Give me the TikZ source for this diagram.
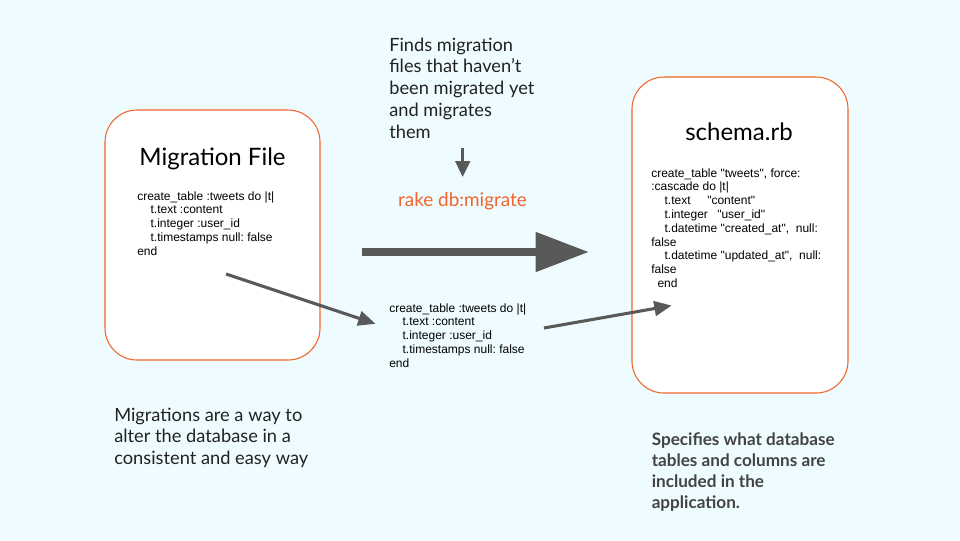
\documentclass[tikz,border=0pt]{standalone}
\usepackage{fontspec}
\setmainfont{Lato}
\newfontfamily\codefont{Liberation Sans}
\usetikzlibrary{arrows.meta}
\frenchspacing
\definecolor{bgc}{HTML}{EEFCFF}
\definecolor{orng}{HTML}{F0652B}
\definecolor{arrc}{HTML}{595959}
\definecolor{txtc}{HTML}{222222}
\definecolor{grayt}{HTML}{434343}
\newcommand\mylines[1]{\begin{tabular}[t]{@{}l@{}}#1\end{tabular}}
\newcommand\ind{\hspace*{10pt}}
\tikzset{
  filebox/.style={draw=orng, line width=0.8pt, fill=white, rounded corners=24pt},
  codetext/.style={anchor=base west, inner sep=0pt, font=\codefont\frenchspacing\fontsize{9}{10.35}\selectfont, text=black},
  bodytext/.style={anchor=base west, inner sep=0pt, font=\fontsize{13.7}{16.4}\selectfont, text=txtc},
  titletext/.style={anchor=base, inner sep=0pt, font=\fontsize{18}{21}\selectfont, text=black},
  thinarrow/.style={draw=arrc, line width=2.3pt, -{Triangle[length=13pt,width=11pt]}, shorten >=-2pt},
}
\begin{document}
\begin{tikzpicture}[x=0.75pt,y=-0.75pt]
\useasboundingbox (0,0) rectangle (960,540);
\fill[bgc] (0,0) rectangle (960,540);

% boxes
\draw[filebox] (105,110) rectangle (320,360);
\draw[filebox] (632,77) rectangle (848,393);

\node[titletext] (t1) at (212.5,165) {Migration File};
\node[titletext] (t2) at (739,140) {schema.rb};

\node[codetext] (c1) at (137,200) {\mylines{create\_table :tweets do |t|\\
\ind t.text :content\\
\ind t.integer :user\_id\\
\ind t.timestamps null: false\\
end}};

\node[codetext] (c2) at (389,312) {\mylines{create\_table :tweets do |t|\\
\ind t.text :content\\
\ind t.integer :user\_id\\
\ind t.timestamps null: false\\
end}};

\node[codetext] (c3) at (651,177) {\mylines{create\_table "tweets", force:\\
:cascade do |t|\\
\ind\makebox[32pt][l]{t.text}"content"\\
\ind\makebox[39.5pt][l]{t.integer}"user\_id"\\
\ind t.datetime "created\_at",\ \ null:\\
false\\
\ind t.datetime "updated\_at",\ \ null:\\
false\\
\hspace*{4.7pt}end}};

\node[bodytext] (top) at (389,51) {\mylines{Finds migration\\ files that haven’t\\ been migrated yet\\ and migrates\\ them}};

\node[anchor=base, inner sep=0pt, font=\fontsize{14.2}{17}\selectfont, text=orng] (rake) at (462.5,206) {rake db:migrate};

\node[bodytext] (bl) at (114,421) {\mylines{Migrations are a way to\\ alter the database in a\\ consistent and easy way}};

\node[bodytext, font=\bfseries\fontsize{12.85}{15.8}\selectfont, text=grayt] (br) at (651.5,445) {\mylines{Specifies what database\\ tables and columns are\\ included in the\\ application.}};

% arrows
\coordinate (da1) at (462.7,148);
\coordinate (da2) at (462.7,177);
\draw[draw=arrc, line width=2.3pt, -{Triangle[length=12pt,width=11pt]}] (da1) -- (da2);

\coordinate (ba1) at (362,252);
\coordinate (ba2) at (589,252);
\draw[draw=arrc, line width=6pt, -{Triangle[length=40pt,width=28.5pt]}] (ba1) -- (ba2);

\coordinate (a1s) at (226,274);
\coordinate (a1e) at (373,323);
\draw[thinarrow] (a1s) -- (a1e);

\coordinate (a2s) at (544,328);
\coordinate (a2e) at (669,306);
\draw[thinarrow] (a2s) -- (a2e);
\end{tikzpicture}
\end{document}
